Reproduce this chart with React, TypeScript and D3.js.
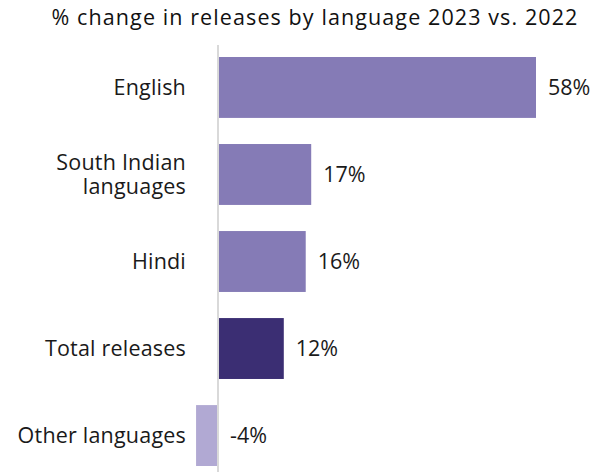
import React from "react";
import * as d3 from "d3";

const categories = ["English", "South Indian languages", "Hindi", "Total releases", "Other languages"];
const values = [58, 17, 16, 12, -4];
const labelLines = [["English"], ["South Indian", "languages"], ["Hindi"], ["Total releases"], ["Other languages"]];
const valueLabels = ["58%", "17%", "16%", "12%", "-4%"];
const colors = ["#857bb6", "#857bb6", "#857bb6", "#3b2e73", "#b1a9d3"];
const title = "% change in releases by language 2023 vs. 2022";

export default function App() {
  const W = 602, H = 472;
  const x = d3.scaleLinear().domain([0, 58]).range([218, 536]);
  const y = d3.scaleBand<string>().domain(categories).range([57, 466]).paddingInner(0.3).paddingOuter(0);
  const font = "'Open Sans', sans-serif";
  return (
    <svg width={W} height={H} style={{ position: "absolute", left: 0, top: 0, background: "#fff" }}>
      <text x={315} y={25} textAnchor="middle" fontFamily={font} fontSize={21.5} fontWeight={500}
        letterSpacing={1.1} fill="#111">
        {title}
      </text>
      {categories.map((c, i) => {
        const v = values[i];
        const x0 = x(Math.min(0, v));
        const x1 = x(Math.max(0, v));
        const yb = y(c)!;
        const bw = y.bandwidth();
        const cy = yb + bw / 2;
        const lines = labelLines[i];
        const lh = 24;
        return (
          <g key={c}>
            <rect x={x0} y={yb} width={x1 - x0} height={bw} fill={colors[i]} />
            <text x={(v >= 0 ? x1 : x(0)) + 12} y={cy} dy="0.35em" fontFamily={font} fontSize={21.5} fill="#1a1a1a">
              {valueLabels[i]}
            </text>
            {lines.map((t, j) => (
              <text key={j} x={186} y={cy + (j - (lines.length - 1) / 2) * lh} dy="0.35em" textAnchor="end"
                fontFamily={font} fontSize={21.5} letterSpacing={0.2} fill="#1a1a1a">
                {t}
              </text>
            ))}
          </g>
        );
      })}
      <line x1={x(0)} x2={x(0)} y1={45} y2={472} stroke="#d9d9d9" strokeWidth={2} />
    </svg>
  );
}
